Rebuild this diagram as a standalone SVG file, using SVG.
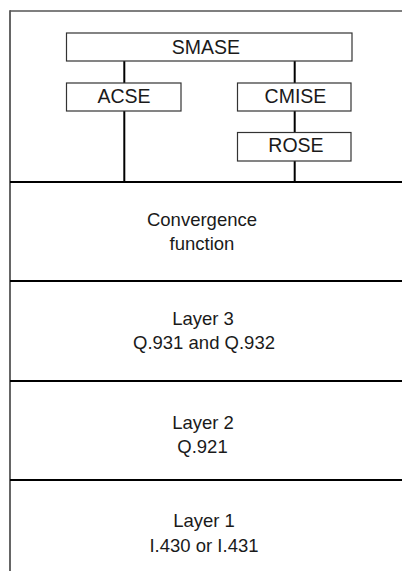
<svg xmlns="http://www.w3.org/2000/svg" width="402" height="571" viewBox="0 0 402 571">
  <style>
    .frame { stroke: #555; fill: none; }
    .sep { stroke: #000; stroke-width: 2; }
    .box rect { fill: #fff; stroke: #333; stroke-width: 1.2; }
    .link { stroke: #000; stroke-width: 2; fill: none; }
    text { font-family: "Liberation Sans", Arial, sans-serif; fill: #1a1a1a; text-anchor: middle; }
    .lbl { font-size: 19.5px; }
    .layer { font-size: 18.5px; }
  </style>
  <rect width="402" height="571" fill="#fff"/>

  <!-- outer frame: top and left edges -->
  <line class="frame" x1="10" y1="11" x2="402" y2="11" stroke-width="1.4"/>
  <line class="frame" x1="10" y1="10.3" x2="10" y2="571" stroke-width="1.8"/>

  <!-- connectors -->
  <g id="connectors">
    <line class="link" x1="124.3" y1="61" x2="124.3" y2="83"/>
    <line class="link" x1="124.3" y1="111" x2="124.3" y2="181"/>
    <line class="link" x1="294.7" y1="61" x2="294.7" y2="83"/>
    <line class="link" x1="294.7" y1="111" x2="294.7" y2="132.5"/>
    <line class="link" x1="294.7" y1="161" x2="294.7" y2="181"/>
  </g>

  <!-- application layer elements -->
  <g id="smase" class="box">
    <rect x="66.5" y="33" width="285.5" height="28"/>
    <text class="lbl" x="206" y="54.3">SMASE</text>
  </g>
  <g id="acse" class="box">
    <rect x="66.5" y="83" width="114.5" height="28"/>
    <text class="lbl" x="124" y="103.3">ACSE</text>
  </g>
  <g id="cmise" class="box">
    <rect x="237.5" y="83" width="113.5" height="28"/>
    <text class="lbl" x="295.5" y="103.3">CMISE</text>
  </g>
  <g id="rose" class="box">
    <rect x="237.5" y="132.5" width="113.5" height="28.5"/>
    <text class="lbl" x="296" y="151.7">ROSE</text>
  </g>

  <!-- layer separators -->
  <g id="separators">
    <line class="sep" x1="10" y1="182" x2="402" y2="182"/>
    <line class="sep" x1="10" y1="281" x2="402" y2="281"/>
    <line class="sep" x1="10" y1="381" x2="402" y2="381"/>
    <line class="sep" x1="10" y1="480" x2="402" y2="480"/>
  </g>

  <g id="convergence">
    <text class="layer" x="202" y="226">Convergence</text>
    <text class="layer" x="202" y="250">function</text>
  </g>
  <g id="layer3">
    <text class="layer" x="203" y="325">Layer 3</text>
    <text class="layer" x="204" y="349">Q.931 and Q.932</text>
  </g>
  <g id="layer2">
    <text class="layer" x="203" y="429.3">Layer 2</text>
    <text class="layer" x="202.5" y="453.3">Q.921</text>
  </g>
  <g id="layer1">
    <text class="layer" x="204" y="526.7">Layer 1</text>
    <text class="layer" x="204" y="551.5">I.430 or I.431</text>
  </g>
</svg>
